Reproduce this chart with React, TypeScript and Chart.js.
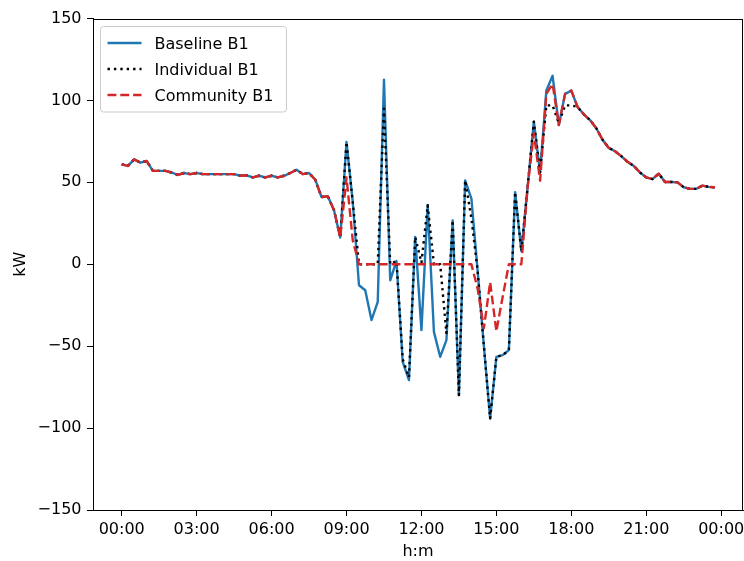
import React, { useEffect, useRef } from "react";
import { Chart, registerables } from "chart.js";

Chart.register(...registerables);

// 15-minute slots, 00:00 .. 23:45 (hours per slot)
const SLOT_HOURS = 0.25;

const SERIES_NAMES = ["Baseline B1", "Individual B1", "Community B1"];

const BASELINE = [
  61, 60, 64, 62, 63, 57, 57, 57, 56, 54.5,
  55.7, 55, 55.7, 55, 55, 55, 55, 55, 55, 54,
  54.3, 53, 54, 53, 54, 53, 54, 55.7, 57.7, 55,
  55.7, 51.6, 41, 41.5, 33, 16.3, 74.6, 38, -12.8, -15.9,
  -34.1, -23, 112.6, -9.8, 2, -59.6, -70.7, 16.6, -40.2, 36,
  -41.3, -56.5, -46.3, 26.8, -79.9, 51.2, 40, -4, -50, -94.1,
  -56.5, -55.5, -52.4, 44, 8, 47, 87, 56, 106, 115,
  85, 104, 106, 96, 91.5, 88, 83, 76, 71, 69,
  66, 62.5, 60, 56, 53, 52, 55.3, 50.2, 50.2, 50,
  47, 46, 46, 48, 47.2, 47,
];

const INDIVIDUAL = [
  61, 60, 64, 62, 63, 57, 57, 57, 56, 54.5,
  55.7, 55, 55.7, 55, 55, 55, 55, 55, 55, 54,
  54.3, 53, 54, 53, 54, 53, 54, 55.7, 57.7, 55,
  55.7, 51.6, 41, 41.5, 33, 16.3, 74.6, 38, 0, 0,
  0, 0, 95, 0, 2, -58, -69, 16.6, 1, 36,
  0, 0, -42, 26.8, -79.9, 51.2, 28, -4, -50, -94.1,
  -56.5, -55.5, -52.4, 44, 8, 47, 87, 56, 97, 97,
  86, 97, 97, 96, 91.5, 88, 83, 76, 71, 69,
  66, 62.5, 60, 56, 53, 52, 55.3, 50.2, 50.2, 50,
  47, 46, 46, 48, 47.2, 47,
];

const COMMUNITY = [
  61, 60, 64, 62, 63, 57, 57, 57, 56, 54.5,
  55.7, 55, 55.7, 55, 55, 55, 55, 55, 55, 54,
  54.3, 53, 54, 53, 54, 53, 54, 55.7, 57.7, 55,
  55.7, 51.6, 41, 41.5, 33, 16.3, 53, 14.6, 0, 0,
  0, 0, 0, 0, 0, 0, 0, 0, 0, 0,
  0, 0, 0, 0, 0, 0, 0, -15, -39, -11,
  -41, -20, 0, 0, 0, 47, 80, 51, 104, 110,
  85, 104, 106, 96, 91.5, 88, 83, 76, 71, 69,
  66, 62.5, 60, 56, 53, 52, 55.3, 50.2, 50.2, 50,
  47, 46, 46, 48, 47.2, 47,
];

const X_TICK_VALUES = [0, 3, 6, 9, 12, 15, 18, 21, 24];
const X_TICK_LABELS = ["00:00", "03:00", "06:00", "09:00", "12:00", "15:00", "18:00", "21:00", "00:00"];
const Y_TICK_VALUES = [-150, -100, -50, 0, 50, 100, 150];

const FONT = '"DejaVu Sans", "Liberation Sans", sans-serif';

const toPoints = (arr: number[]) => arr.map((v, i) => ({ x: i * SLOT_HOURS, y: v }));

const framePlugin = {
  id: "frame",
  afterDatasetsDraw(chart: any) {
    const { ctx, chartArea } = chart;
    const { left, top, right, bottom } = chartArea;
    ctx.save();
    ctx.strokeStyle = "#000";
    ctx.lineWidth = 1;
    ctx.setLineDash([]);
    ctx.strokeRect(Math.round(left) + 0.5, Math.round(top) + 0.5, Math.round(right) - Math.round(left) - 1, Math.round(bottom) - Math.round(top));
    ctx.restore();
  },
};

const legendPlugin = {
  id: "mplLegend",
  afterDraw(chart: any) {
    const { ctx, chartArea } = chart;
    const bx = chartArea.left + 7.5;
    const by = chartArea.top + 8;
    const bw = 186;
    const bh = 85.5;
    const r = 3;
    ctx.save();
    ctx.beginPath();
    ctx.moveTo(bx + r, by);
    ctx.lineTo(bx + bw - r, by);
    ctx.quadraticCurveTo(bx + bw, by, bx + bw, by + r);
    ctx.lineTo(bx + bw, by + bh - r);
    ctx.quadraticCurveTo(bx + bw, by + bh, bx + bw - r, by + bh);
    ctx.lineTo(bx + r, by + bh);
    ctx.quadraticCurveTo(bx, by + bh, bx, by + bh - r);
    ctx.lineTo(bx, by + r);
    ctx.quadraticCurveTo(bx, by, bx + r, by);
    ctx.closePath();
    ctx.fillStyle = "rgba(255,255,255,0.8)";
    ctx.fill();
    ctx.strokeStyle = "#cccccc";
    ctx.lineWidth = 1;
    ctx.stroke();

    chart.data.datasets.forEach((ds: any, k: number) => {
      const cy = by + 16.5 + k * 26;
      ctx.strokeStyle = ds.borderColor;
      ctx.lineWidth = ds.borderWidth;
      ctx.lineCap = "butt";
      ctx.setLineDash(ds.borderDash || []);
      ctx.beginPath();
      ctx.moveTo(bx + 7, cy);
      ctx.lineTo(bx + 41, cy);
      ctx.stroke();
      ctx.setLineDash([]);
      ctx.fillStyle = "#000";
      ctx.font = `16px ${FONT}`;
      ctx.textAlign = "left";
      ctx.textBaseline = "alphabetic";
      ctx.fillText(ds.label, bx + 54, cy + 6);
    });
    ctx.restore();
  },
};

export default function App() {
  const canvasRef = useRef<HTMLCanvasElement | null>(null);

  useEffect(() => {
    if (!canvasRef.current) return;
    Chart.defaults.font.family = FONT;
    Chart.defaults.font.size = 16;
    Chart.defaults.color = "#000";

    const chart = new Chart(canvasRef.current, {
      type: "line",
      data: {
        datasets: [
          {
            label: SERIES_NAMES[0],
            data: toPoints(BASELINE),
            borderColor: "#1f77b4",
            borderWidth: 2.4,
            borderJoinStyle: "round",
            pointRadius: 0,
            tension: 0,
            fill: false,
            order: 3,
          },
          {
            label: SERIES_NAMES[1],
            data: toPoints(INDIVIDUAL),
            borderColor: "#000000",
            borderWidth: 2.4,
            borderDash: [2.4, 4],
            borderCapStyle: "butt",
            borderJoinStyle: "round",
            pointRadius: 0,
            tension: 0,
            fill: false,
            order: 2,
          },
          {
            label: SERIES_NAMES[2],
            data: toPoints(COMMUNITY),
            borderColor: "#d62728",
            borderWidth: 2.4,
            borderDash: [8.9, 3.9],
            borderCapStyle: "butt",
            borderJoinStyle: "round",
            pointRadius: 0,
            tension: 0,
            fill: false,
            order: 1,
          },
        ],
      },
      options: {
        responsive: false,
        animation: false,
        devicePixelRatio: 1,
        layout: { padding: { top: 18.5, right: 1, bottom: 0, left: 0 } },
        plugins: {
          legend: { display: false },
          tooltip: { enabled: false },
        },
        scales: {
          x: {
            type: "linear",
            min: -1.149,
            max: 24.873,
            afterBuildTicks: (axis: any) => {
              axis.ticks = X_TICK_VALUES.map((v) => ({ value: v }));
            },
            afterFit: (scale: any) => {
              scale.height = 51;
              scale.paddingLeft = 0;
              scale.paddingRight = 0;
            },
            ticks: {
              autoSkip: false,
              maxRotation: 0,
              minRotation: 0,
              padding: 4,
              color: "#000",
              font: { size: 16 },
              callback: (v: any) => {
                const k = X_TICK_VALUES.indexOf(Number(v));
                return k >= 0 ? X_TICK_LABELS[k] : "";
              },
            },
            grid: {
              display: true,
              drawOnChartArea: false,
              drawTicks: true,
              tickLength: 6,
              color: "#000",
              lineWidth: 1,
            },
            border: { display: true, color: "#000", width: 1 },
            title: {
              display: true,
              text: "h:m",
              color: "#000",
              font: { size: 16 },
              padding: { top: 0, bottom: 0 },
            },
          },
          y: {
            type: "linear",
            min: -150,
            max: 150,
            afterBuildTicks: (axis: any) => {
              axis.ticks = Y_TICK_VALUES.map((v) => ({ value: v }));
            },
            afterFit: (scale: any) => {
              scale.width = 93;
              scale.paddingTop = 0;
              scale.paddingBottom = 0;
            },
            ticks: {
              padding: 5.5,
              color: "#000",
              font: { size: 16 },
              callback: (v: any) => {
                const n = Number(v);
                return n < 0 ? "\u2212" + Math.abs(n) : String(n);
              },
            },
            grid: {
              display: true,
              drawOnChartArea: false,
              drawTicks: true,
              tickLength: 6,
              color: "#000",
              lineWidth: 1,
            },
            border: { display: true, color: "#000", width: 1 },
            title: {
              display: true,
              text: "kW",
              color: "#000",
              font: { size: 16 },
              padding: { top: 11.4, bottom: 0 },
            },
          },
        },
      },
      plugins: [framePlugin, legendPlugin],
    } as any);

    return () => chart.destroy();
  }, []);

  return (
    <div style={{ position: "fixed", left: 0, top: 0, width: 744, height: 561, background: "#fff" }}>
      <canvas ref={canvasRef} width={744} height={561} style={{ display: "block", width: 744, height: 561 }} />
    </div>
  );
}
